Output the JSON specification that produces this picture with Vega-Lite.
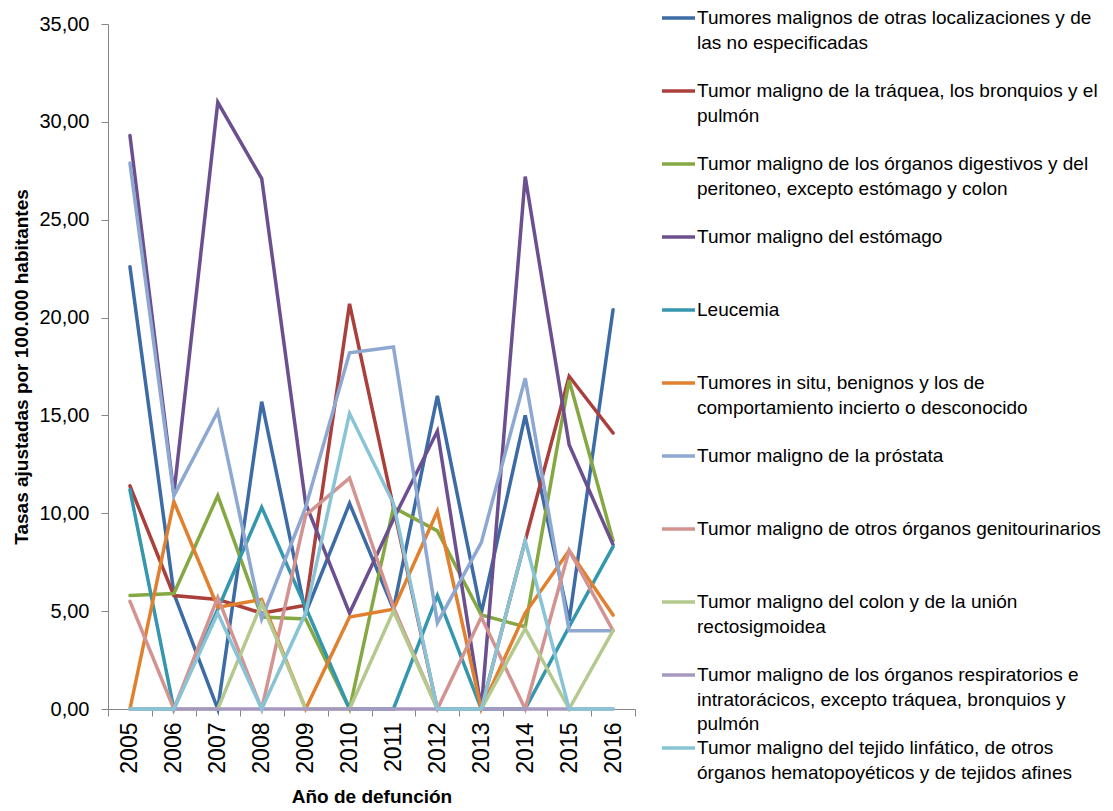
{
  "$schema": "https://vega.github.io/schema/vega-lite/v6.json",
  "autosize": "none",
  "width": 527,
  "height": 685,
  "padding": {"left": 108, "top": 24, "right": 478, "bottom": 102},
  "background": "white",
  "datasets": {
    "series": [
      {"serie": 1, "nombre": "Tumores malignos de otras localizaciones y de las no especificadas"},
      {"serie": 2, "nombre": "Tumor maligno de la tráquea, los bronquios y el pulmón"},
      {"serie": 3, "nombre": "Tumor maligno de los órganos digestivos y del peritoneo, excepto estómago y colon"},
      {"serie": 4, "nombre": "Tumor maligno del estómago"},
      {"serie": 5, "nombre": "Leucemia"},
      {"serie": 6, "nombre": "Tumores in situ, benignos y los de comportamiento incierto o desconocido"},
      {"serie": 7, "nombre": "Tumor maligno de la próstata"},
      {"serie": 8, "nombre": "Tumor maligno de otros órganos genitourinarios"},
      {"serie": 9, "nombre": "Tumor maligno del colon y de la unión rectosigmoidea"},
      {"serie": 10, "nombre": "Tumor maligno de los órganos respiratorios e intratorácicos, excepto tráquea, bronquios y pulmón"},
      {"serie": 11, "nombre": "Tumor maligno del tejido linfático, de otros órganos hematopoyéticos y de tejidos afines"}
    ],
    "tasas": [
      {"anio": "2005", "serie": 1, "tasa": 22.6}, {"anio": "2006", "serie": 1, "tasa": 5.9}, {"anio": "2007", "serie": 1, "tasa": 0}, {"anio": "2008", "serie": 1, "tasa": 15.7}, {"anio": "2009", "serie": 1, "tasa": 4.9}, {"anio": "2010", "serie": 1, "tasa": 10.5}, {"anio": "2011", "serie": 1, "tasa": 5.1}, {"anio": "2012", "serie": 1, "tasa": 16.0}, {"anio": "2013", "serie": 1, "tasa": 4.9}, {"anio": "2014", "serie": 1, "tasa": 15.0}, {"anio": "2015", "serie": 1, "tasa": 4.5}, {"anio": "2016", "serie": 1, "tasa": 20.4},
      {"anio": "2005", "serie": 2, "tasa": 11.4}, {"anio": "2006", "serie": 2, "tasa": 5.8}, {"anio": "2007", "serie": 2, "tasa": 5.6}, {"anio": "2008", "serie": 2, "tasa": 4.9}, {"anio": "2009", "serie": 2, "tasa": 5.3}, {"anio": "2010", "serie": 2, "tasa": 20.7}, {"anio": "2011", "serie": 2, "tasa": 10.3}, {"anio": "2012", "serie": 2, "tasa": 0}, {"anio": "2013", "serie": 2, "tasa": 0}, {"anio": "2014", "serie": 2, "tasa": 8.6}, {"anio": "2015", "serie": 2, "tasa": 17.0}, {"anio": "2016", "serie": 2, "tasa": 14.1},
      {"anio": "2005", "serie": 3, "tasa": 5.8}, {"anio": "2006", "serie": 3, "tasa": 5.9}, {"anio": "2007", "serie": 3, "tasa": 10.9}, {"anio": "2008", "serie": 3, "tasa": 4.7}, {"anio": "2009", "serie": 3, "tasa": 4.6}, {"anio": "2010", "serie": 3, "tasa": 0}, {"anio": "2011", "serie": 3, "tasa": 10.3}, {"anio": "2012", "serie": 3, "tasa": 9.1}, {"anio": "2013", "serie": 3, "tasa": 4.8}, {"anio": "2014", "serie": 3, "tasa": 4.2}, {"anio": "2015", "serie": 3, "tasa": 16.8}, {"anio": "2016", "serie": 3, "tasa": 8.6},
      {"anio": "2005", "serie": 4, "tasa": 29.3}, {"anio": "2006", "serie": 4, "tasa": 11.0}, {"anio": "2007", "serie": 4, "tasa": 31.0}, {"anio": "2008", "serie": 4, "tasa": 27.1}, {"anio": "2009", "serie": 4, "tasa": 10.5}, {"anio": "2010", "serie": 4, "tasa": 4.9}, {"anio": "2011", "serie": 4, "tasa": 9.7}, {"anio": "2012", "serie": 4, "tasa": 14.2}, {"anio": "2013", "serie": 4, "tasa": 0}, {"anio": "2014", "serie": 4, "tasa": 27.2}, {"anio": "2015", "serie": 4, "tasa": 13.5}, {"anio": "2016", "serie": 4, "tasa": 8.4},
      {"anio": "2005", "serie": 5, "tasa": 11.2}, {"anio": "2006", "serie": 5, "tasa": 0}, {"anio": "2007", "serie": 5, "tasa": 5.1}, {"anio": "2008", "serie": 5, "tasa": 10.3}, {"anio": "2009", "serie": 5, "tasa": 5.2}, {"anio": "2010", "serie": 5, "tasa": 0}, {"anio": "2011", "serie": 5, "tasa": 0}, {"anio": "2012", "serie": 5, "tasa": 5.8}, {"anio": "2013", "serie": 5, "tasa": 0}, {"anio": "2014", "serie": 5, "tasa": 0}, {"anio": "2015", "serie": 5, "tasa": 4.2}, {"anio": "2016", "serie": 5, "tasa": 8.3},
      {"anio": "2005", "serie": 6, "tasa": 0}, {"anio": "2006", "serie": 6, "tasa": 10.6}, {"anio": "2007", "serie": 6, "tasa": 5.2}, {"anio": "2008", "serie": 6, "tasa": 5.6}, {"anio": "2009", "serie": 6, "tasa": 0}, {"anio": "2010", "serie": 6, "tasa": 4.7}, {"anio": "2011", "serie": 6, "tasa": 5.1}, {"anio": "2012", "serie": 6, "tasa": 10.1}, {"anio": "2013", "serie": 6, "tasa": 0}, {"anio": "2014", "serie": 6, "tasa": 4.9}, {"anio": "2015", "serie": 6, "tasa": 8.1}, {"anio": "2016", "serie": 6, "tasa": 4.8},
      {"anio": "2005", "serie": 7, "tasa": 27.9}, {"anio": "2006", "serie": 7, "tasa": 10.9}, {"anio": "2007", "serie": 7, "tasa": 15.2}, {"anio": "2008", "serie": 7, "tasa": 4.6}, {"anio": "2009", "serie": 7, "tasa": 10.3}, {"anio": "2010", "serie": 7, "tasa": 18.2}, {"anio": "2011", "serie": 7, "tasa": 18.5}, {"anio": "2012", "serie": 7, "tasa": 4.4}, {"anio": "2013", "serie": 7, "tasa": 8.5}, {"anio": "2014", "serie": 7, "tasa": 16.9}, {"anio": "2015", "serie": 7, "tasa": 4.0}, {"anio": "2016", "serie": 7, "tasa": 4.0},
      {"anio": "2005", "serie": 8, "tasa": 5.5}, {"anio": "2006", "serie": 8, "tasa": 0}, {"anio": "2007", "serie": 8, "tasa": 5.7}, {"anio": "2008", "serie": 8, "tasa": 0}, {"anio": "2009", "serie": 8, "tasa": 9.9}, {"anio": "2010", "serie": 8, "tasa": 11.8}, {"anio": "2011", "serie": 8, "tasa": 5.2}, {"anio": "2012", "serie": 8, "tasa": 0}, {"anio": "2013", "serie": 8, "tasa": 4.7}, {"anio": "2014", "serie": 8, "tasa": 0}, {"anio": "2015", "serie": 8, "tasa": 8.1}, {"anio": "2016", "serie": 8, "tasa": 4.0},
      {"anio": "2005", "serie": 9, "tasa": 0}, {"anio": "2006", "serie": 9, "tasa": 0}, {"anio": "2007", "serie": 9, "tasa": 0}, {"anio": "2008", "serie": 9, "tasa": 5.4}, {"anio": "2009", "serie": 9, "tasa": 0}, {"anio": "2010", "serie": 9, "tasa": 0}, {"anio": "2011", "serie": 9, "tasa": 5.0}, {"anio": "2012", "serie": 9, "tasa": 0}, {"anio": "2013", "serie": 9, "tasa": 0}, {"anio": "2014", "serie": 9, "tasa": 4.1}, {"anio": "2015", "serie": 9, "tasa": 0}, {"anio": "2016", "serie": 9, "tasa": 4.0},
      {"anio": "2005", "serie": 10, "tasa": 0}, {"anio": "2006", "serie": 10, "tasa": 0}, {"anio": "2007", "serie": 10, "tasa": 0}, {"anio": "2008", "serie": 10, "tasa": 0}, {"anio": "2009", "serie": 10, "tasa": 0}, {"anio": "2010", "serie": 10, "tasa": 0}, {"anio": "2011", "serie": 10, "tasa": 0}, {"anio": "2012", "serie": 10, "tasa": 0}, {"anio": "2013", "serie": 10, "tasa": 0}, {"anio": "2014", "serie": 10, "tasa": 0}, {"anio": "2015", "serie": 10, "tasa": 0}, {"anio": "2016", "serie": 10, "tasa": 0},
      {"anio": "2005", "serie": 11, "tasa": 0}, {"anio": "2006", "serie": 11, "tasa": 0}, {"anio": "2007", "serie": 11, "tasa": 4.9}, {"anio": "2008", "serie": 11, "tasa": 0}, {"anio": "2009", "serie": 11, "tasa": 4.9}, {"anio": "2010", "serie": 11, "tasa": 15.1}, {"anio": "2011", "serie": 11, "tasa": 10.5}, {"anio": "2012", "serie": 11, "tasa": 0}, {"anio": "2013", "serie": 11, "tasa": 0}, {"anio": "2014", "serie": 11, "tasa": 8.6}, {"anio": "2015", "serie": 11, "tasa": 0}, {"anio": "2016", "serie": 11, "tasa": 0}
    ]
  },
  "data": {"name": "tasas"},
  "transform": [
    {"lookup": "serie", "from": {"data": {"name": "series"}, "key": "serie", "fields": ["nombre"]}}
  ],
  "mark": {"type": "line", "strokeWidth": 3.5, "strokeJoin": "miter", "strokeCap": "round"},
  "encoding": {
    "x": {
      "field": "anio",
      "type": "ordinal",
      "scale": {"paddingInner": 0, "paddingOuter": 0},
      "axis": {
        "title": "Año de defunción",
        "titleFont": "Liberation Sans",
        "titleFontSize": 19,
        "titleFontWeight": "bold",
        "titleColor": "#000000",
        "titlePadding": 14,
        "labelAngle": -90,
        "labelAlign": "right",
        "labelBaseline": "middle",
        "labelFont": "Liberation Sans",
        "labelFontSize": 23,
        "labelColor": "#000000",
        "labelPadding": 6,
        "tickBand": "extent",
        "tickSize": 7,
        "tickColor": "#868686",
        "domainColor": "#868686",
        "grid": false
      }
    },
    "y": {
      "field": "tasa",
      "type": "quantitative",
      "scale": {"domain": [0, 35], "nice": false, "zero": true},
      "axis": {
        "title": "Tasas ajustadas por 100.000 habitantes",
        "titleFont": "Liberation Sans",
        "titleFontSize": 19,
        "titleFontWeight": "bold",
        "titleColor": "#000000",
        "titlePadding": 7,
        "values": [0, 5, 10, 15, 20, 25, 30, 35],
        "labelExpr": "replace(format(datum.value, '.2f'), '.', ',')",
        "labelFont": "Liberation Sans",
        "labelFontSize": 20,
        "labelColor": "#000000",
        "labelPadding": 12,
        "tickSize": 7,
        "tickColor": "#868686",
        "domainColor": "#868686",
        "grid": false
      }
    },
    "color": {
      "field": "nombre",
      "type": "nominal",
      "sort": {"field": "serie", "op": "min"},
      "scale": {"range": ["#3C6BA5", "#AA3F3C", "#86A843", "#6B4F8F", "#3497AE", "#E1812F", "#8EA8D2", "#D39391", "#B3C98D", "#A699C0", "#89C4D6"]},
      "legend": {
        "title": null,
        "orient": "none",
        "legendX": 552,
        "legendY": -17,
        "symbolType": "stroke",
        "symbolSize": 1089,
        "symbolStrokeWidth": 3.5,
        "labelFont": "Liberation Sans",
        "labelFontSize": 19,
        "labelColor": "#000000",
        "labelLimit": 1000,
        "labelOffset": 0,
        "labelBaseline": "top",
        "gridAlign": "all",
        "rowPadding": 0,
        "clipHeight": 73,
        "labelExpr": "split(replace(replace(replace(replace(replace(replace(replace(replace(datum.label, ' y de las', ' y de|las'), ' y el pulmón', ' y el|pulmón'), ' y del peritoneo', ' y del|peritoneo'), ' los de comportamiento', ' los de|comportamiento'), ' unión rectosigmoidea', ' unión|rectosigmoidea'), ' e intratorácicos', ' e|intratorácicos'), ' bronquios y pulmón', ' bronquios y|pulmón'), 'otros órganos hematopoyéticos', 'otros|órganos hematopoyéticos'), '|')",
        "encode": {
          "labels": {"update": {"lineHeight": {"value": 24.5}, "y": {"value": 2}}},
          "symbols": {"update": {"y": {"value": 11}}}
        }
      }
    }
  },
  "config": {"view": {"stroke": null}}
}
